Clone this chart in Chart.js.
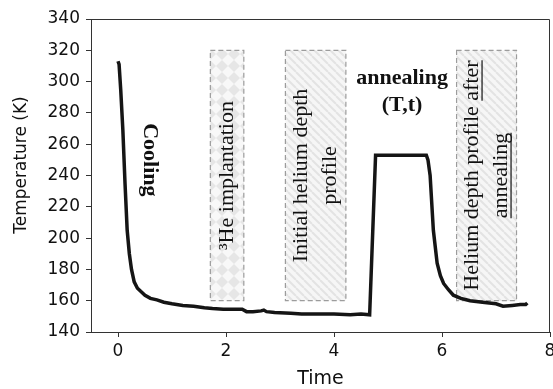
<!DOCTYPE html>
<html>
<head>
<meta charset="utf-8">
<script src="https://cdn.jsdelivr.net/npm/chart.js@4"></script>
<style>
  html, body { margin: 0; padding: 0; background: #fff; }
</style>
</head>
<body>
<canvas id="tempChart" width="553" height="389"></canvas>
<script>
// temperature trace
const timeValues = [0, 0.02, 0.05, 0.09, 0.13, 0.17, 0.21, 0.25, 0.30, 0.36, 0.42, 0.50, 0.60, 0.72, 0.85,
  1.0, 1.2, 1.4, 1.6, 1.75, 1.95, 2.15, 2.3, 2.38, 2.5, 2.65, 2.7, 2.75, 2.9, 3.2, 3.4, 3.7, 4.0, 4.3, 4.5,
  4.66, 4.77, 5.0, 5.3, 5.71, 5.74, 5.78, 5.84, 5.91, 5.97, 6.03, 6.12, 6.21, 6.35, 6.52, 6.75, 7.0, 7.13,
  7.3, 7.45, 7.55, 7.58];
const tempValues = [313, 311, 295, 269, 235, 205, 190, 180, 172, 168, 166, 163.5, 161.5, 160.5, 159,
  158, 157, 156.5, 155.5, 155, 154.5, 154.5, 154.5, 153, 153, 153.5, 154, 153, 152.5, 152, 151.5, 151.5, 151.5, 151, 151.5,
  151, 253, 253, 253, 253, 250, 240, 205, 184, 176, 171, 167, 163.5, 161.5, 160, 159, 158, 156.5,
  157, 157.5, 157.5, 158.5];

const xTickValues = [0, 2, 4, 6, 8];

// shaded steps (time range, temperature range)
const boxStart = [1.71, 3.10, 6.27];
const boxEnd = [2.33, 4.22, 7.38];
const boxTop = [320, 320, 320];
const boxBottom = [160, 160, 160];
const boxLines = [
  ['³He implantation'],
  ['Initial helium depth', 'profile'],
  ['Helium depth profile after', 'annealing']
];
const boxUnderlined = [[null], [null, null], ['after', 'annealing']];

function diamondPattern(ctx) {
  const c = document.createElement('canvas');
  c.width = 12; c.height = 12;
  const g = c.getContext('2d');
  g.fillStyle = '#f8f8f8';
  g.fillRect(0, 0, 12, 12);
  g.fillStyle = '#e6e6e6';
  g.beginPath();
  g.moveTo(6, 0); g.lineTo(12, 6); g.lineTo(6, 12); g.lineTo(0, 6);
  g.closePath();
  g.fill();
  return ctx.createPattern(c, 'repeat');
}

function stripePattern(ctx) {
  const c = document.createElement('canvas');
  c.width = 8; c.height = 8;
  const g = c.getContext('2d');
  g.fillStyle = '#f6f6f6';
  g.fillRect(0, 0, 8, 8);
  g.strokeStyle = '#e3e3e3';
  g.lineWidth = 2;
  [-8, 0, 8].forEach(o => {
    g.beginPath(); g.moveTo(o, 0); g.lineTo(o + 8, 8); g.stroke();
  });
  return ctx.createPattern(c, 'repeat');
}

const annotations = {
  id: 'annotations',
  beforeDatasetsDraw(chart) {
    const { ctx, scales: { x, y } } = chart;
    boxStart.forEach((s, i) => {
      const left = x.getPixelForValue(s);
      const right = x.getPixelForValue(boxEnd[i]);
      const top = y.getPixelForValue(boxTop[i]);
      const bottom = y.getPixelForValue(boxBottom[i]);
      ctx.save();
      ctx.fillStyle = i === 0 ? diamondPattern(ctx) : stripePattern(ctx);
      ctx.fillRect(left, top, right - left, bottom - top);
      ctx.setLineDash([5, 3]);
      ctx.strokeStyle = '#9c9c9c';
      ctx.lineWidth = 1.2;
      ctx.strokeRect(left, top, right - left, bottom - top);
      ctx.setLineDash([]);

      ctx.translate((left + right) / 2, (top + bottom) / 2);
      ctx.rotate(-Math.PI / 2);
      ctx.font = '22px "Liberation Serif"';
      ctx.fillStyle = '#111';
      ctx.textAlign = 'center';
      ctx.textBaseline = 'middle';
      const lines = boxLines[i];
      lines.forEach((line, j) => {
        const dy = (j - (lines.length - 1) / 2) * 29;
        ctx.fillText(line, 0, dy);
        const word = boxUnderlined[i][j];
        if (word) {
          const w = ctx.measureText(line).width;
          const idx = line.lastIndexOf(word);
          const start = -w / 2 + ctx.measureText(line.slice(0, idx)).width;
          const end = start + ctx.measureText(word).width;
          ctx.strokeStyle = '#111';
          ctx.lineWidth = 1.2;
          ctx.beginPath();
          ctx.moveTo(start, dy + 10);
          ctx.lineTo(end, dy + 10);
          ctx.stroke();
        }
      });
      ctx.restore();
    });

    // step labels
    ctx.save();
    ctx.fillStyle = '#111';
    ctx.textAlign = 'center';
    ctx.textBaseline = 'middle';
    ctx.font = 'bold 22px "Liberation Serif"';
    ctx.fillText('annealing', x.getPixelForValue(5.26), y.getPixelForValue(302));
    ctx.fillText('(T,t)', x.getPixelForValue(5.26), y.getPixelForValue(285));
    ctx.translate(x.getPixelForValue(0.59), y.getPixelForValue(250));
    ctx.rotate(Math.PI / 2);
    ctx.fillText('Cooling', 0, 0);
    ctx.restore();
  },
  afterDraw(chart) {
    const { ctx, chartArea } = chart;
    ctx.save();
    ctx.strokeStyle = '#333';
    ctx.lineWidth = 1;
    ctx.beginPath();
    ctx.moveTo(chartArea.left, chartArea.top + 0.5);
    ctx.lineTo(chartArea.right - 0.5, chartArea.top + 0.5);
    ctx.lineTo(chartArea.right - 0.5, chartArea.bottom);
    ctx.stroke();
    // y axis title
    ctx.fillStyle = '#111';
    ctx.font = '17px "DejaVu Sans"';
    ctx.textAlign = 'center';
    ctx.textBaseline = 'middle';
    ctx.translate(22, 165);
    ctx.rotate(-Math.PI / 2);
    ctx.fillText('Temperature (K)', 0, 0);
    ctx.restore();
  }
};

const tickFont = { family: 'DejaVu Sans', size: 17 };

new Chart(document.getElementById('tempChart').getContext('2d'), {
  type: 'scatter',
  data: {
    datasets: [{
      label: 'Temperature',
      data: timeValues.map((t, i) => ({ x: t, y: tempValues[i] })),
      showLine: true,
      borderColor: '#151515',
      borderWidth: 3.5,
      pointRadius: 0,
      tension: 0
    }]
  },
  options: {
    responsive: false,
    animation: false,
    layout: { padding: { top: 19, right: 3, left: 0, bottom: 0 } },
    plugins: { legend: { display: false }, tooltip: { enabled: false } },
    scales: {
      x: {
        type: 'linear',
        min: -0.5,
        max: 8,
        afterBuildTicks: s => { s.ticks = xTickValues.map(v => ({ value: v })); },
        afterFit: s => { s.height = 57; s.paddingLeft = 0; s.paddingRight = 0; },
        grid: { drawOnChartArea: false, drawTicks: true, tickLength: 5, color: '#333' },
        border: { color: '#333', width: 1 },
        ticks: { font: tickFont, color: '#111', padding: 4, maxRotation: 0, autoSkip: false },
        title: {
          display: true, text: 'Time', color: '#111',
          font: { family: 'DejaVu Sans', size: 19, lineHeight: 1 },
          padding: { top: 0, bottom: 0 }
        }
      },
      y: {
        min: 140,
        max: 340,
        afterFit: s => { s.width = 91; s.paddingTop = 0; s.paddingBottom = 0; },
        grid: { drawOnChartArea: false, drawTicks: true, tickLength: 5, color: '#333' },
        border: { color: '#333', width: 1 },
        ticks: { stepSize: 20, font: tickFont, color: '#111', padding: 6, autoSkip: false }
      }
    }
  },
  plugins: [annotations]
});
</script>
</body>
</html>
